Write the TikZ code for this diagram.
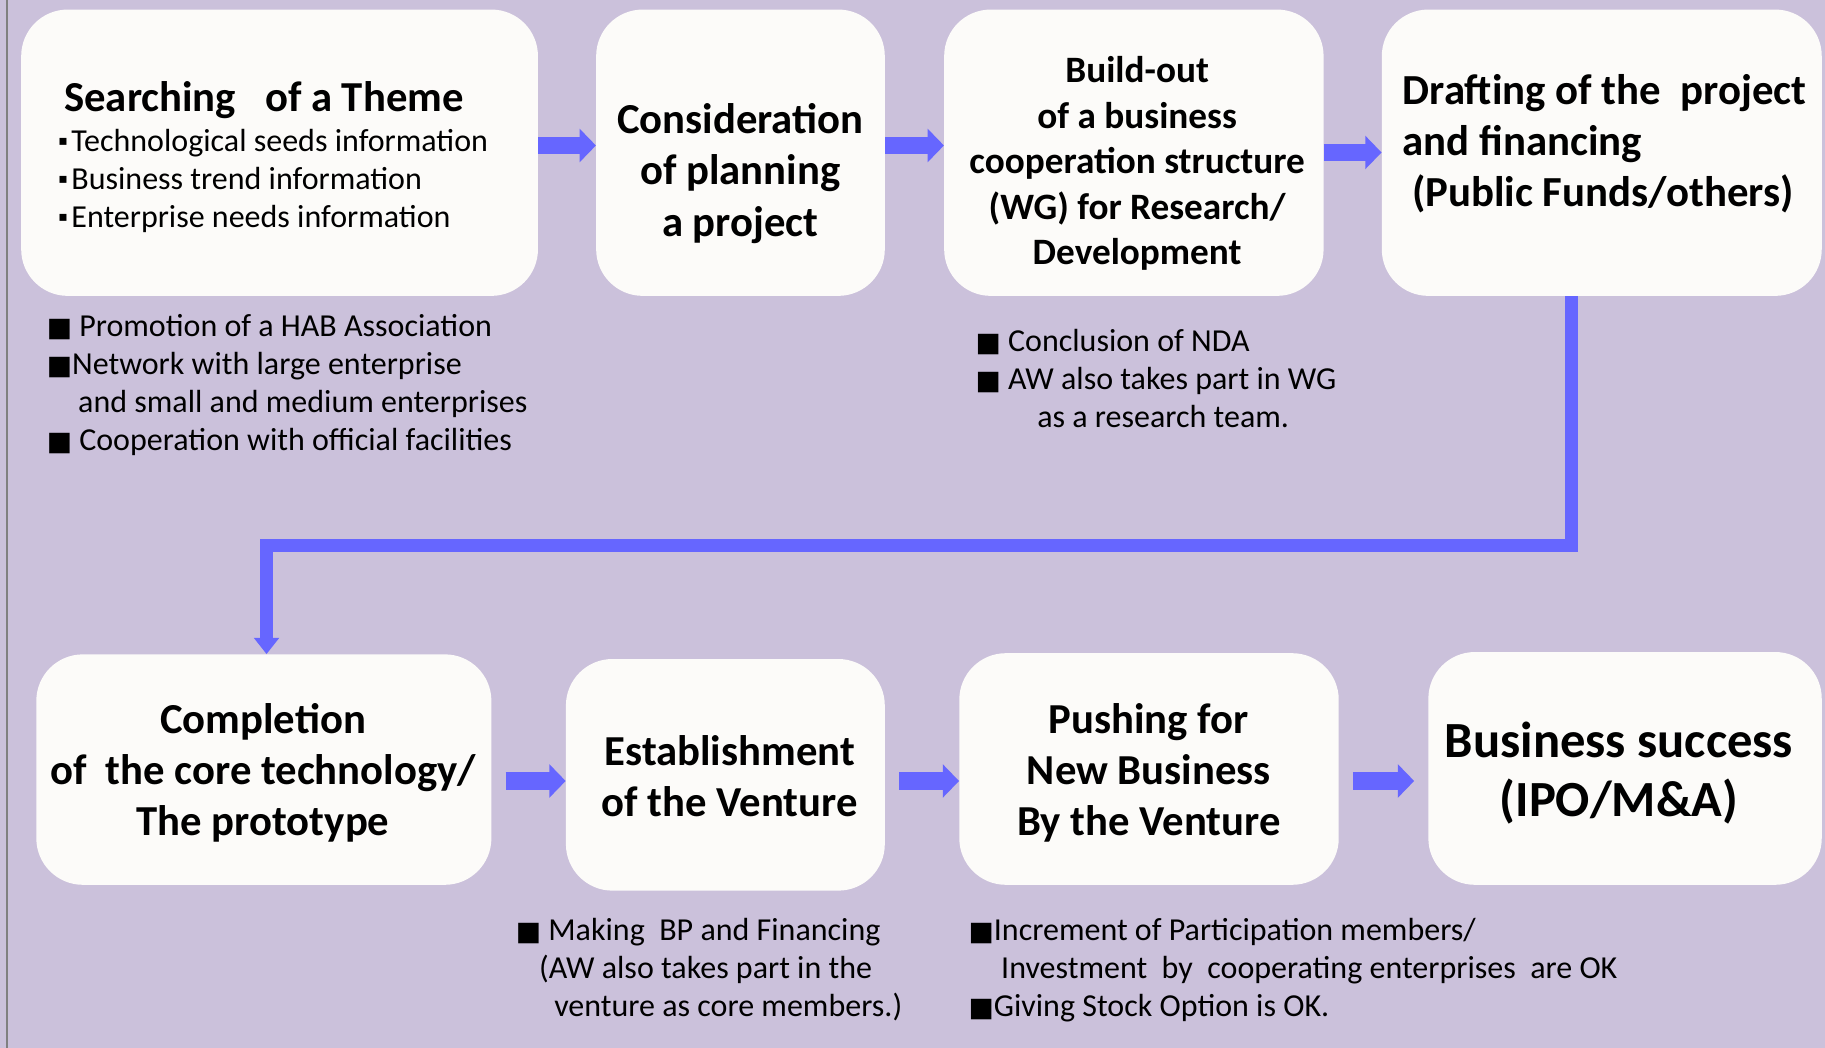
\documentclass[tikz,border=0pt]{standalone}
\usepackage{fontspec}
\setmainfont{Carlito}
\newfontfamily\dejavu{DejaVu Sans}
\usetikzlibrary{arrows.meta,calc}
\definecolor{bg}{RGB}{203,193,219}
\definecolor{boxc}{RGB}{252,251,249}
\definecolor{arr}{RGB}{102,102,255}
\newcommand{\sqb}{{\dejavu\fontsize{23}{23}\selectfont ■}}
\newcommand{\smb}{\raisebox{5pt}{\dejavu\fontsize{12}{12}\selectfont ▪}\hspace{3pt}}
\begin{document}
\begin{tikzpicture}[x=1pt,y=-1pt,
  box/.style={fill=boxc, draw=none, rounded corners=40pt, anchor=north west, inner sep=0pt},
  blk/.style={draw=arr, line width=15pt, -{Triangle[width=28pt,length=14pt]}},
  lng/.style={draw=arr, line width=11pt, line join=miter, -{Triangle[width=21pt,length=14pt]}},
  ttl/.style={font=\bfseries\fontsize{36.7}{44}\selectfont, align=center, inner sep=0pt},
  note/.style={font=\fontsize{27.5}{32.7}\selectfont, align=left, anchor=north west, inner sep=0pt}]
\fill[bg] (0,0) rectangle (1568,900);
\useasboundingbox (0,0) rectangle (1568,900);
\draw[gray, line width=1.5pt] (6,0) -- (6,900);
% boxes
\node[box, minimum width=444pt, minimum height=246pt] (b1) at (18,8) {};
\node[box, minimum width=248pt, minimum height=246pt] (b2) at (512,8) {};
\node[box, minimum width=326pt, minimum height=246pt] (b3) at (811,8) {};
\node[box, minimum width=378pt, minimum height=246pt] (b4) at (1187,8) {};
\node[box, minimum width=391pt, minimum height=198pt] (b5) at (31,562) {};
\node[box, minimum width=274pt, minimum height=199pt] (b6) at (486,566) {};
\node[box, minimum width=326pt, minimum height=199pt] (b7) at (824,561) {};
\node[box, minimum width=338pt, minimum height=200pt] (b8) at (1227,560) {};
% box texts
\node[ttl, anchor=west] (t1a) at (55,86) {Searching\ \ \ of a Theme};
\node[note] (t1b) at (50,111) {\smb Technological seeds information\\ \smb Business trend information\\ \smb Enterprise needs information};
\node[ttl] (t2) at (636,149) {Consideration\\of planning\\a project};
\node[ttl, font=\bfseries\fontsize{32}{39}\selectfont] (t3) at (977,140.5) {Build-out\\of a business\\cooperation structure\\(WG) for Research/\\Development};
\node[ttl, align=left, anchor=west, font=\bfseries\fontsize{36.8}{43.5}\selectfont] (t4) at (1205,123.5) {Drafting of the\ \ project\\and financing\\\hspace*{8pt}(Public Funds/others)};
\node[ttl] (t5) at (226,664) {Completion\\of\ \ the core technology/\\The prototype};
\node[ttl] (t6) at (627,667) {Establishment\\of the Venture};
\node[ttl] (t7) at (987,664) {Pushing for\\New Business\\By the Venture};
\node[ttl, font=\bfseries\fontsize{43.5}{51}\selectfont] (t8) at (1391,664) {Business success\\(IPO/M\&A)};
% notes
\node[note] (n1) at (40,270) {\sqb\ Promotion of a HAB Association\\ \sqb Network with large enterprise\\ \hspace*{27pt}and small and medium enterprises\\ \sqb\ Cooperation with official facilities};
\node[note] (n3) at (838,283) {\sqb\ Conclusion of NDA\\ \sqb\ AW also takes part in WG\\ \hspace*{53pt}as a research team.};
\node[note, font=\fontsize{27.5}{32.5}\selectfont] (n6) at (443,789) {\sqb\ Making\ \ BP and Financing\\ \hspace*{20pt}(AW also takes part in the\\ \hspace*{33pt}venture as core members.)};
\node[note, font=\fontsize{27.5}{32.5}\selectfont] (n7) at (832,789) {\sqb Increment of Participation members/\\ \hspace*{28pt}Investment\ \ by\ \ cooperating enterprises\ \ are OK\\ \sqb Giving Stock Option is OK.};
% connectors
\draw[blk] (b1.east |- 0,125) -- (b2.west |- 0,125);
\draw[blk] (b2.east |- 0,125) -- (b3.west |- 0,125);
\draw[blk] (b3.east |- 0,131) -- (b4.west |- 0,131);
\draw[lng] (b4.south -| 1350,0) -- (1350,469) -- (229,469) -- (b5.north -| 229,0);
\draw[blk] ($(b5.east |- 0,671)+(12,0)$) -- (b6.west |- 0,671);
\draw[blk] ($(b6.east |- 0,671)+(12,0)$) -- (b7.west |- 0,671);
\draw[blk] ($(b7.east |- 0,671)+(12,0)$) -- ($(b8.west |- 0,671)+(-12,0)$);
\end{tikzpicture}
\end{document}
